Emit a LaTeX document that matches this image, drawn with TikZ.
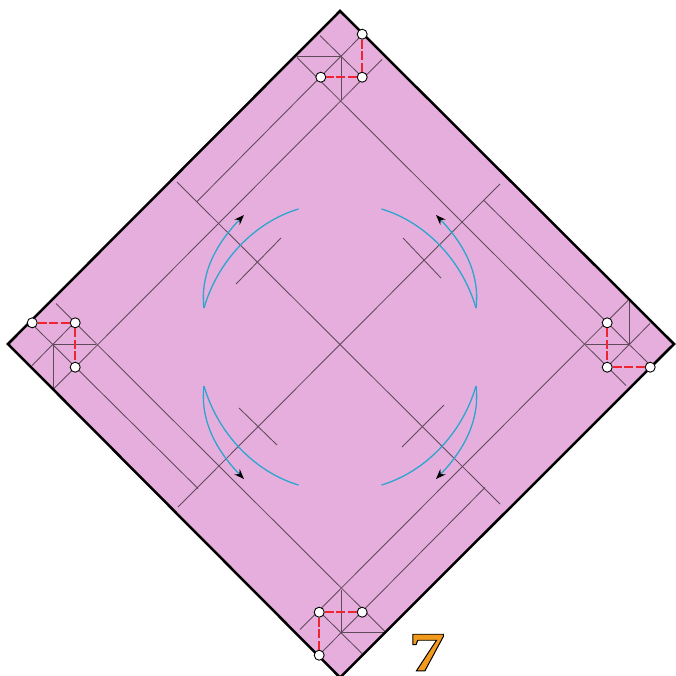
\documentclass[tikz,border=0pt]{standalone}
\usepackage{fontspec}
\setmainfont{Liberation Serif}
\usetikzlibrary{arrows.meta}
\definecolor{paper}{HTML}{E6AEDD}
\definecolor{crease}{HTML}{5F4A59}
\definecolor{valley}{HTML}{EE2530}
\definecolor{swing}{HTML}{2CA6CE}
\definecolor{numfill}{HTML}{F29A1E}
\tikzset{
  creaseline/.style={draw=crease,line width=0.85pt},
  edgeline/.style={draw=black,line width=2.5pt,line join=miter},
  valleyline/.style={draw=valley,line width=2pt,dash pattern=on 9pt off 2.5pt},
  dot/.style={circle,draw=black,fill=white,line width=0.9pt,minimum size=10pt,inner sep=0pt},
  swingline/.style={draw=swing,line width=1.3pt},
  swingarrow/.style={swingline,-{Stealth[black,length=10pt,width=7.5pt]}},
}
\begin{document}
\begin{tikzpicture}[x=1pt,y=-1pt]
\useasboundingbox (0,0) rectangle (676,675);
\begin{scope}
\clip (0,0) rectangle (676,675);
\path[fill=paper] (340,11) -- (674,344) -- (340,677.5) -- (8,344) -- cycle;

% long diagonals
\draw[creaseline] (177,182) -- (500,504);
\draw[creaseline] (500,184) -- (178,507);
% short cross marks
\draw[creaseline] (236,284) -- (281,238);
\draw[creaseline] (403,238) -- (441,278);
\draw[creaseline] (402,447) -- (444,405);
\draw[creaseline] (239,408) -- (277,445);

% the same corner creases, four times round the centre
\foreach \a in {0,90,180,270}{
  \begin{scope}[shift={(341,344.5)},rotate=\a]
    % long line through the corner
    \draw[creaseline] (41,-285) -- (-287,44);
    % line from the edge to the diagonal
    \draw[creaseline] (21.5,-310) -- (-144,-143);
    % small creases at the corner
    \draw[creaseline] (-21,-309) -- (21.5,-267);
    \draw[creaseline] (0,-288) -- (-44,-288);
    \draw[creaseline] (0,-288) -- (0,-245);
  \end{scope}
}

% swing arrows
\foreach \sx/\sy in {1/1,-1/1,1/-1,-1/-1}{
  \begin{scope}[shift={(340,347)},xscale=\sx,yscale=\sy,shift={(-340,-347)}]
    \draw[swingline] (204,308) .. controls (218,260) and (255,222) .. (298.5,209);
    \draw[swingarrow] (204,308) .. controls (200,275) and (215,245) .. (244,215);
  \end{scope}
}
\draw[edgeline] (340,11) -- (674,344) -- (340,677.5) -- (8,344) -- cycle;

% valley folds between reference points
\foreach \n/\ax/\ay/\bx/\by/\cx/\cy in {
  t/362.2/34.2/362.2/77.2/320.8/77.2,
  r/607.2/322.8/607.2/367.2/650.2/367.2,
  b/319.2/655.2/319.2/612.2/362.2/612.2,
  l/32.2/322.8/75.2/322.8/75.2/367.2}{
  \node[dot] (a\n) at (\ax,\ay) {};
  \node[dot] (b\n) at (\bx,\by) {};
  \node[dot] (c\n) at (\cx,\cy) {};
  \draw[valleyline] (a\n) -- (b\n);
  \draw[valleyline] (b\n) -- (c\n);
}
\end{scope}
\node[inner sep=0pt,text=numfill,xscale=1.3,transform shape] (stepnum) at (427,652.5)
  {\fontsize{56}{56}\selectfont\bfseries\special{pdf:code 2 Tr 0.8 w 0 0 0 RG}7\special{pdf:code 0 Tr}};
\end{tikzpicture}
\end{document}
